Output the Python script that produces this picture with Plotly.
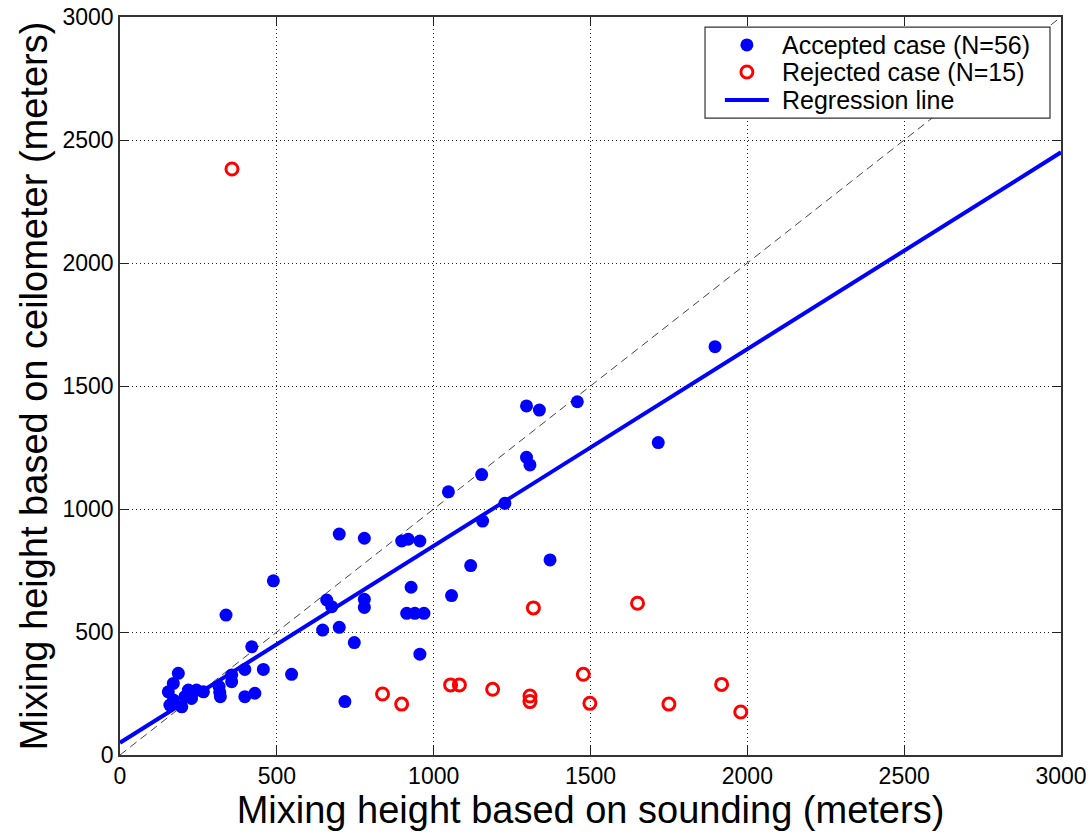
import plotly.graph_objects as go

# Mixing height comparison: sounding (x) vs ceilometer (y), metres
accepted_x = [1897, 1458, 1296, 1337, 1716, 1296, 1307, 1153, 1047, 1227,
              1156, 699, 779, 898, 919, 956, 1118, 1371, 489, 928,
              1057, 659, 675, 779, 779, 914, 940, 969, 338, 646,
              699, 747, 956, 717, 420, 398, 457, 547, 356, 356,
              398, 430, 316, 318, 320, 266, 186, 154, 170, 170,
              197, 218, 228, 207, 244, 159]
accepted_y = [1660, 1436, 1419, 1402, 1270, 1210, 1179, 1140, 1070, 1023,
              951, 898, 881, 870, 877, 870, 770, 793, 708, 682,
              648, 630, 603, 633, 600, 576, 576, 576, 569, 508,
              519, 457, 410, 217, 440, 348, 348, 328, 298, 325,
              237, 251, 278, 255, 237, 257, 332, 257, 291, 224,
              196, 264, 230, 237, 264, 203]

rejected_x = [357, 1318, 1650, 837, 898, 1054, 1082, 1188, 1307, 1307,
              1477, 1498, 1750, 1918, 1979]
rejected_y = [2382, 598, 617, 248, 207, 285, 285, 267, 240, 217,
              328, 210, 207, 287, 175]

# Regression fit y = slope * x + intercept
slope = 0.8
intercept = 50
axis_max = 3000
reg_x = [0, axis_max]
reg_y = [intercept + slope * v for v in reg_x]

# 1:1 reference line
one_to_one = [0, axis_max]

tick_vals = [0, 500, 1000, 1500, 2000, 2500, 3000]

legend_labels = ["Accepted case (N=56)", "Rejected case (N=15)", "Regression line"]

FONT = "Liberation Sans, Arial, sans-serif"
BLUE = "#0000ff"
RED = "#ff0000"

fig = go.Figure()

fig.add_trace(go.Scatter(
    x=one_to_one, y=one_to_one, mode="lines",
    line=dict(color="#444444", width=1, dash="8px,5px"),
    showlegend=False, hoverinfo="skip"))

fig.add_trace(go.Scatter(
    x=reg_x, y=reg_y, mode="lines", name=legend_labels[2],
    line=dict(color=BLUE, width=4), showlegend=False))

fig.add_trace(go.Scatter(
    x=accepted_x, y=accepted_y, mode="markers", name=legend_labels[0],
    marker=dict(symbol="circle", size=13, color=BLUE, line=dict(width=0)),
    showlegend=False))

fig.add_trace(go.Scatter(
    x=rejected_x, y=rejected_y, mode="markers", name=legend_labels[1],
    marker=dict(symbol="circle-open", size=12, color=RED,
                line=dict(width=3, color=RED)),
    showlegend=False))

axis_common = dict(
    range=[0, axis_max], tickvals=tick_vals,
    showline=True, linecolor="#333333", linewidth=1.5, mirror="allticks",
    ticks="inside", ticklen=9, tickwidth=1, tickcolor="#222222",
    showgrid=True, gridcolor="#222222", gridwidth=1, griddash="1px,3px",
    zeroline=False, tickfont=dict(family=FONT, size=23, color="black"),
    fixedrange=True,
)

fig.update_xaxes(**axis_common,
                 title=dict(text="Mixing height based on sounding (meters)",
                            font=dict(family=FONT, size=38, color="black"),
                            standoff=5))
fig.update_yaxes(**axis_common,
                 title=dict(text="Mixing height based on ceilometer (meters)",
                            font=dict(family=FONT, size=38, color="black"),
                            standoff=3))

# Legend box drawn in paper coordinates over the plot area
box_x0, box_x1 = 0.6217, 0.9883
box_y0, box_y1 = 0.8631, 0.9864
sym_x = 0.6662
txt_x = 0.7014
row_y = [0.9621, 0.9255, 0.8875]

shapes = [
    dict(type="rect", xref="paper", yref="paper", layer="above",
         x0=box_x0, x1=box_x1, y0=box_y0, y1=box_y1,
         fillcolor="white", line=dict(color="#333333", width=1.2)),
    dict(type="circle", xref="paper", yref="paper", layer="above",
         xsizemode="pixel", ysizemode="pixel", xanchor=sym_x, yanchor=row_y[0],
         x0=-6.5, x1=6.5, y0=-6.5, y1=6.5,
         fillcolor=BLUE, line=dict(width=0)),
    dict(type="circle", xref="paper", yref="paper", layer="above",
         xsizemode="pixel", ysizemode="pixel", xanchor=sym_x, yanchor=row_y[1],
         x0=-6, x1=6, y0=-6, y1=6,
         fillcolor="white", line=dict(color=RED, width=3)),
    dict(type="line", xref="paper", yref="paper", layer="above",
         xsizemode="pixel", xanchor=sym_x, x0=-22, x1=22,
         y0=row_y[2], y1=row_y[2], line=dict(color=BLUE, width=4)),
]

annotations = [
    dict(text=lbl, xref="paper", yref="paper", x=txt_x, y=yy,
         xanchor="left", yanchor="middle", showarrow=False,
         font=dict(family=FONT, size=25, color="black"))
    for lbl, yy in zip(legend_labels, row_y)
]

fig.update_layout(
    width=1092, height=834,
    margin=dict(l=120, r=31, t=17, b=79, autoexpand=False),
    paper_bgcolor="white", plot_bgcolor="white",
    font=dict(family=FONT, color="black"),
    showlegend=False,
    shapes=shapes,
    annotations=annotations,
)

fig.write_html("out.html")
